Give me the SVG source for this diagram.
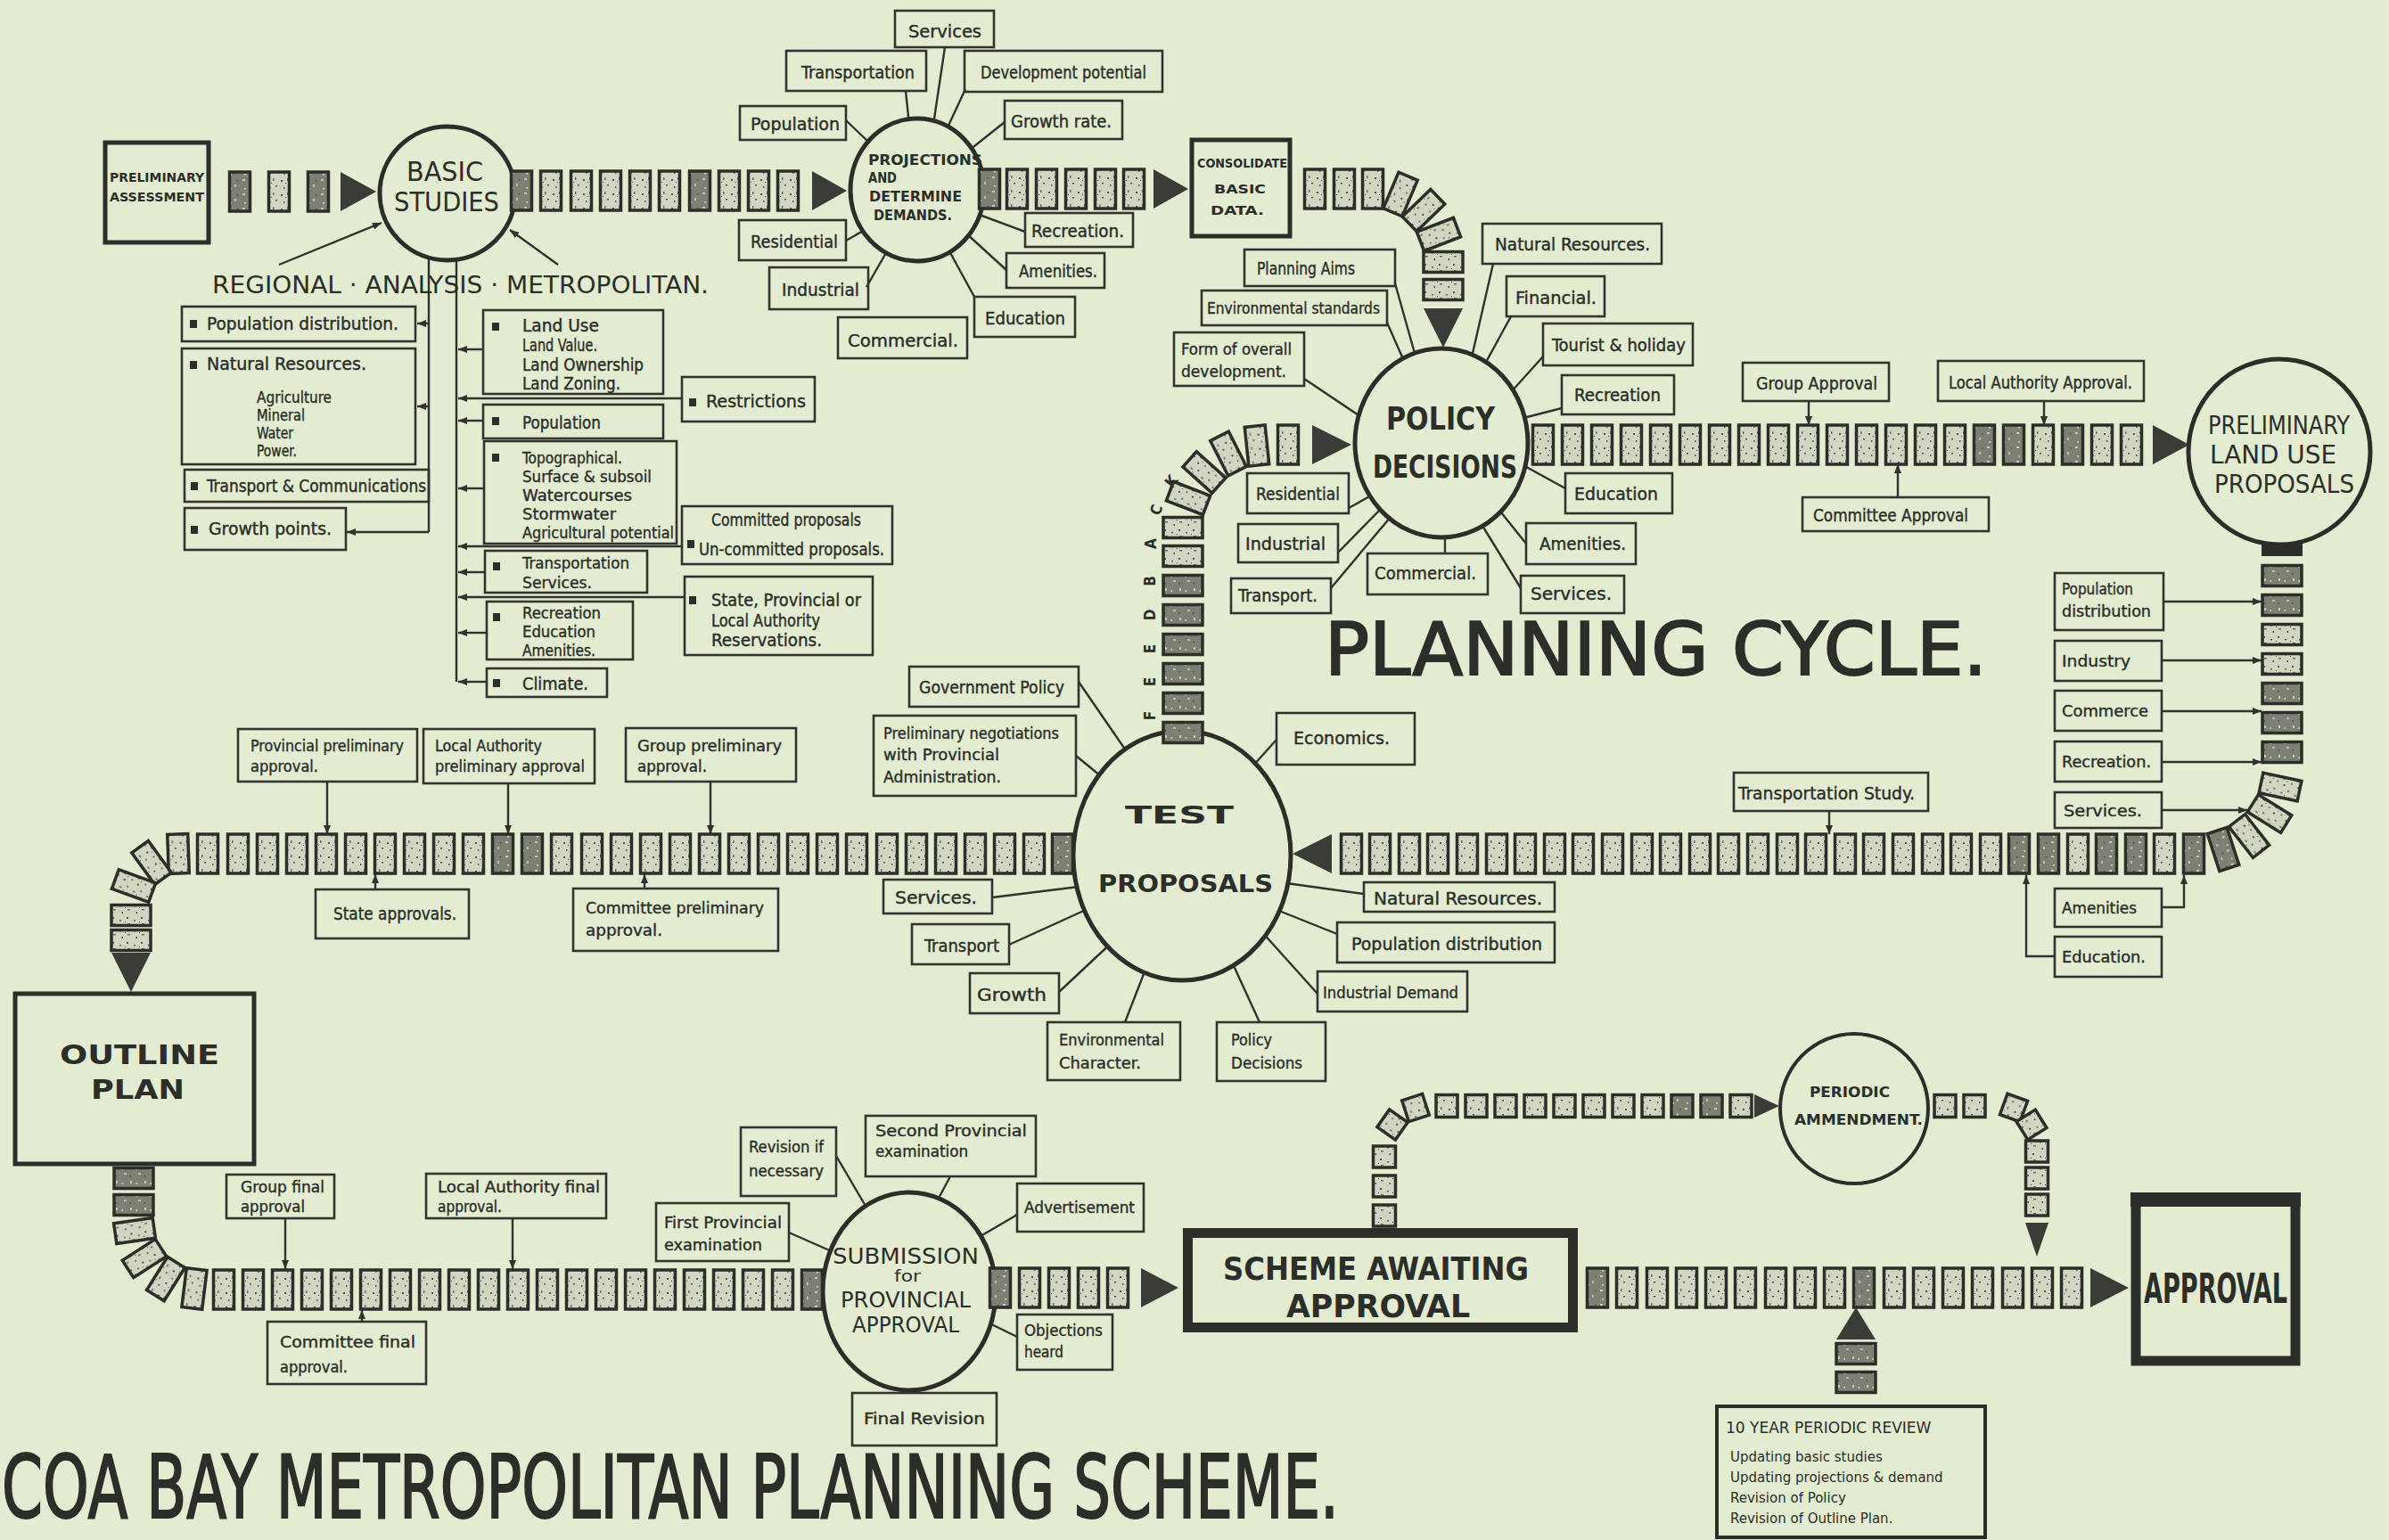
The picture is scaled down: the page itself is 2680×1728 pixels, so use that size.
<svg xmlns="http://www.w3.org/2000/svg" width="2680" height="1728" viewBox="0 0 2680 1728">
<defs>
<style>
.paper{fill:#e3ebd1}
.ln{fill:none;stroke:#30332e;stroke-width:2.4}
.bx{fill:none;stroke:#30332e;stroke-width:2.6}
.hv{fill:none;stroke:#2b2e29;stroke-width:5}
.xh{fill:none;stroke:#2b2e29;stroke-width:11}
.nd{fill:#e3ebd1;stroke:#2b2e29;stroke-width:5}
.blk{fill:url(#grain);stroke:#2b2e29;stroke-width:3.5}
.dk{fill:url(#grainDk)}
.ar{fill:#3a3d37}
.bul{fill:#2b2e29}
text{fill:#2b2e29;font-family:"DejaVu Sans Condensed","DejaVu Sans","Liberation Sans",sans-serif}
.lb{font-size:20px;stroke:#2b2e29;stroke-width:0.4}
.sm{font-size:17px;stroke:#2b2e29;stroke-width:0.35}
.cp{font-weight:bold}
.ttl{stroke:#2b2e29;stroke-width:2}
.wide{font-family:"DejaVu Sans","Liberation Sans",sans-serif}
</style>
<pattern id="grain" width="16" height="16" patternUnits="userSpaceOnUse">
<rect width="16" height="16" fill="#d0d6c1"/>
<rect x="2" y="3" width="2" height="2" fill="#50544b"/>
<rect x="9" y="1" width="1.5" height="3" fill="#6a6e63"/>
<rect x="12" y="9" width="2" height="1.5" fill="#4d5148"/>
<rect x="5" y="11" width="1.5" height="2" fill="#5c6057"/>
<rect x="7" y="6" width="1" height="1" fill="#3f423b"/>
</pattern>
<pattern id="grainDk" width="16" height="16" patternUnits="userSpaceOnUse">
<rect width="16" height="16" fill="#7c8174"/>
<rect x="3" y="2" width="3" height="2" fill="#c7ccb9"/>
<rect x="10" y="8" width="2" height="3" fill="#b9beab"/>
<rect x="5" y="12" width="2" height="1.5" fill="#d3d8c4"/>
<rect x="13" y="3" width="1.5" height="1.5" fill="#454940"/>
</pattern>
<rect id="b" x="-11.5" y="-22" width="23" height="44"/>
<rect id="s" x="-12" y="-12.5" width="24" height="25"/>
<marker id="arw" viewBox="0 0 10 8" refX="10" refY="4" markerWidth="10" markerHeight="8" markerUnits="userSpaceOnUse" orient="auto">
<path d="M0,0 L10,4 L0,8 z" fill="#2f322d"/>
</marker>
</defs>

<rect class="paper" x="0" y="0" width="2680" height="1728"/>

<!-- spokes, trunks and approval ticks -->
<g id="links" class="ln">
<!-- basic studies -->
<path d="M313,297 L428,250" marker-end="url(#arw)"/>
<path d="M626,297 L572,258" marker-end="url(#arw)"/>
<path d="M481,290 V597"/>
<path d="M512,290 V765"/>
<path d="M481,363 H468" marker-end="url(#arw)"/>
<path d="M481,456 H468" marker-end="url(#arw)"/>
<path d="M481,597 H389" marker-end="url(#arw)"/>
<path d="M542,392 H514" marker-end="url(#arw)"/>
<path d="M765,447 H514" marker-end="url(#arw)"/>
<path d="M542,472 H514" marker-end="url(#arw)"/>
<path d="M543,548 H514" marker-end="url(#arw)"/>
<path d="M765,613 H514" marker-end="url(#arw)"/>
<path d="M544,642 H514" marker-end="url(#arw)"/>
<path d="M768,670 H514" marker-end="url(#arw)"/>
<path d="M546,710 H514" marker-end="url(#arw)"/>
<path d="M546,765 H514" marker-end="url(#arw)"/>
<!-- projections -->
<path d="M1060,53 L1047,140"/>
<path d="M1016,102 L1020,140"/>
<path d="M1083,100 L1062,145"/>
<path d="M949,135 L975,160"/>
<path d="M1127,137 L1088,168"/>
<path d="M949,270 L970,258"/>
<path d="M1150,260 L1096,240"/>
<path d="M972,322 L995,282"/>
<path d="M1129,303 L1084,262"/>
<path d="M1093,333 L1064,280"/>
<!-- policy decisions -->
<path d="M1565,318 L1588,400"/>
<path d="M1556,362 L1575,405"/>
<path d="M1463,425 L1530,470"/>
<path d="M1675,296 L1650,405"/>
<path d="M1695,355 L1665,410"/>
<path d="M1731,400 L1695,440"/>
<path d="M1752,458 L1705,470"/>
<path d="M1756,548 L1705,520"/>
<path d="M1712,610 L1680,570"/>
<path d="M1706,660 L1660,585"/>
<path d="M1621,621 L1621,595"/>
<path d="M1513,570 L1540,555"/>
<path d="M1501,620 L1550,570"/>
<path d="M1493,660 L1560,580"/>
<!-- test proposals -->
<path d="M1210,765 L1265,845"/>
<path d="M1207,848 L1240,875"/>
<path d="M1432,830 L1405,860"/>
<path d="M1113,1007 L1210,995"/>
<path d="M1132,1060 L1220,1020"/>
<path d="M1188,1113 L1250,1055"/>
<path d="M1262,1147 L1290,1075"/>
<path d="M1413,1147 L1380,1075"/>
<path d="M1478,1115 L1415,1045"/>
<path d="M1500,1048 L1430,1020"/>
<path d="M1530,1003 L1436,990"/>
<!-- submission -->
<path d="M938,1297 L975,1360"/>
<path d="M1066,1320 L1050,1350"/>
<path d="M1141,1363 L1095,1390"/>
<path d="M885,1383 L935,1405"/>
<path d="M1141,1500 L1100,1480"/>
<path d="M1020,1563 L1020,1550"/>
<!-- approvals on the chains -->
<path d="M367,877 V936" marker-end="url(#arw)"/>
<path d="M570,879 V936" marker-end="url(#arw)"/>
<path d="M797,877 V936" marker-end="url(#arw)"/>
<path d="M421,998 V981" marker-end="url(#arw)"/>
<path d="M723,997 V981" marker-end="url(#arw)"/>
<path d="M2029,450 V477" marker-end="url(#arw)"/>
<path d="M2293,450 V477" marker-end="url(#arw)"/>
<path d="M2129,558 V521" marker-end="url(#arw)"/>
<path d="M2052,910 V936" marker-end="url(#arw)"/>
<path d="M320,1367 V1424" marker-end="url(#arw)"/>
<path d="M575,1367 V1424" marker-end="url(#arw)"/>
<path d="M406,1483 V1470" marker-end="url(#arw)"/>
<path d="M2427,675 H2537" marker-end="url(#arw)"/>
<path d="M2425,741 H2537" marker-end="url(#arw)"/>
<path d="M2425,798 H2537" marker-end="url(#arw)"/>
<path d="M2425,855 H2537" marker-end="url(#arw)"/>
<path d="M2425,909 H2521" marker-end="url(#arw)"/>
<path d="M2425,1018 H2450 V982" marker-end="url(#arw)"/>
<path d="M2305,1073 H2273 V982" marker-end="url(#arw)"/>
</g>

<!-- main stages -->
<g id="n-prelim-assessment">
<rect class="hv" x="118" y="160" width="116" height="112"/>
<text class="cp" x="123" y="204" font-size="14" textLength="106" lengthAdjust="spacingAndGlyphs">PRELIMINARY</text>
<text class="cp" x="123" y="226" font-size="14" textLength="106" lengthAdjust="spacingAndGlyphs">ASSESSMENT</text>
</g>
<g id="n-basic-studies">
<ellipse class="nd" cx="502" cy="217" rx="76" ry="75"/>
<text x="456" y="203" font-size="30" textLength="86" lengthAdjust="spacingAndGlyphs">BASIC</text>
<text x="442" y="237" font-size="30" textLength="118" lengthAdjust="spacingAndGlyphs">STUDIES</text>
</g>
<g id="n-projections">
<ellipse class="nd" cx="1029" cy="213" rx="75" ry="80"/>
<text class="cp" x="974" y="185" font-size="16" textLength="128" lengthAdjust="spacingAndGlyphs">PROJECTIONS</text>
<text class="cp" x="974" y="205" font-size="16" textLength="32" lengthAdjust="spacingAndGlyphs">AND</text>
<text class="cp" x="975" y="226" font-size="16" textLength="104" lengthAdjust="spacingAndGlyphs">DETERMINE</text>
<text class="cp" x="980" y="247" font-size="16" textLength="88" lengthAdjust="spacingAndGlyphs">DEMANDS.</text>
</g>
<g id="n-consolidate">
<rect class="hv" x="1337" y="157" width="110" height="108"/>
<text class="cp" x="1343" y="188" font-size="14" textLength="101" lengthAdjust="spacingAndGlyphs">CONSOLIDATE</text>
<text class="cp" x="1362" y="217" font-size="14" textLength="58" lengthAdjust="spacingAndGlyphs">BASIC</text>
<text class="cp" x="1358" y="241" font-size="14" textLength="60" lengthAdjust="spacingAndGlyphs">DATA.</text>
</g>
<g id="n-policy">
<ellipse class="nd" cx="1617" cy="497" rx="97" ry="106"/>
<text class="cp" x="1555" y="482" font-size="36" textLength="122" lengthAdjust="spacingAndGlyphs">POLICY</text>
<text class="cp" x="1540" y="536" font-size="36" textLength="162" lengthAdjust="spacingAndGlyphs">DECISIONS</text>
</g>
<g id="n-prelim-landuse">
<ellipse class="nd" cx="2557" cy="507" rx="102" ry="104"/>
<text x="2477" y="487" font-size="28" textLength="159" lengthAdjust="spacingAndGlyphs">PRELIMINARY</text>
<text x="2479" y="520" font-size="28" textLength="142" lengthAdjust="spacingAndGlyphs">LAND USE</text>
<text x="2484" y="553" font-size="28" textLength="157" lengthAdjust="spacingAndGlyphs">PROPOSALS</text>
</g>
<g id="n-test">
<ellipse class="nd" cx="1326" cy="960" rx="122" ry="140"/>
<text class="cp" x="1262" y="924" font-size="27" textLength="122" lengthAdjust="spacingAndGlyphs">TEST</text>
<text class="cp" x="1232" y="1001" font-size="27" textLength="196" lengthAdjust="spacingAndGlyphs">PROPOSALS</text>
</g>
<g id="n-outline">
<rect class="hv" x="17" y="1115" width="268" height="191"/>
<text class="cp" x="67" y="1194" font-size="30" textLength="179" lengthAdjust="spacingAndGlyphs">OUTLINE</text>
<text class="cp" x="102" y="1233" font-size="30" textLength="105" lengthAdjust="spacingAndGlyphs">PLAN</text>
</g>
<g id="n-submission">
<ellipse class="nd" cx="1020" cy="1449" rx="97" ry="111"/>
<text x="934" y="1418" font-size="25" textLength="164" lengthAdjust="spacingAndGlyphs">SUBMISSION</text>
<text x="1003" y="1438" font-size="18" textLength="30" lengthAdjust="spacingAndGlyphs">for</text>
<text x="943" y="1467" font-size="25" textLength="146" lengthAdjust="spacingAndGlyphs">PROVINCIAL</text>
<text x="956" y="1495" font-size="25" textLength="120" lengthAdjust="spacingAndGlyphs">APPROVAL</text>
</g>
<g id="n-scheme">
<rect class="xh" x="1332.5" y="1383.5" width="432" height="106"/>
<text class="cp" x="1372" y="1436" font-size="35" textLength="343" lengthAdjust="spacingAndGlyphs">SCHEME AWAITING</text>
<text class="cp" x="1443" y="1478" font-size="35" textLength="206" lengthAdjust="spacingAndGlyphs">APPROVAL</text>
</g>
<g id="n-approval">
<rect class="xh" x="2396" y="1347" width="179" height="180"/>
<rect x="2390" y="1338" width="191" height="16" fill="#2b2e29"/>
<text class="cp" x="2405" y="1462" font-size="46" textLength="161" lengthAdjust="spacingAndGlyphs">APPROVAL</text>
</g>
<g id="n-periodic">
<ellipse cx="2080" cy="1244" rx="83" ry="84" fill="#e3ebd1" stroke="#2b2e29" stroke-width="4"/>
<text class="cp" x="2030" y="1231" font-size="15" textLength="90" lengthAdjust="spacingAndGlyphs">PERIODIC</text>
<text class="cp" x="2013" y="1262" font-size="15" textLength="144" lengthAdjust="spacingAndGlyphs">AMMENDMENT.</text>
</g>
<g id="n-review">
<rect x="1926" y="1578" width="301" height="147" fill="none" stroke="#2b2e29" stroke-width="4"/>
<text class="wide" font-size="15">
<tspan x="1936" y="1608" font-size="17">10 YEAR PERIODIC REVIEW</tspan>
<tspan x="1941" y="1640">Updating basic studies</tspan>
<tspan x="1941" y="1663">Updating projections &amp; demand</tspan>
<tspan x="1941" y="1686">Revision of Policy</tspan>
<tspan x="1941" y="1709">Revision of Outline Plan.</tspan>
</text>
</g>

<!-- basic studies analysis lists -->
<g id="t-analysis"><text x="238" y="329" font-size="26" textLength="557" lengthAdjust="spacingAndGlyphs">REGIONAL · ANALYSIS · METROPOLITAN.</text></g>
<g id="l-pop-dist"><rect class="bx" x="204" y="344" width="262" height="39"/><rect class="bul" x="213" y="359" width="8" height="9"/>
<text class="lb" x="232" y="370" textLength="215" lengthAdjust="spacingAndGlyphs">Population distribution.</text></g>
<g id="l-nat-res"><rect class="bx" x="204" y="391" width="262" height="130"/><rect class="bul" x="213" y="405" width="8" height="9"/>
<text class="lb" x="232" y="415" textLength="179" lengthAdjust="spacingAndGlyphs">Natural Resources.</text>
<text class="sm" x="288" y="452" textLength="84" lengthAdjust="spacingAndGlyphs">Agriculture</text>
<text class="sm" x="288" y="472" textLength="54" lengthAdjust="spacingAndGlyphs">Mineral</text>
<text class="sm" x="288" y="492" textLength="41" lengthAdjust="spacingAndGlyphs">Water</text>
<text class="sm" x="288" y="512" textLength="45" lengthAdjust="spacingAndGlyphs">Power.</text></g>
<g id="l-transport-comm"><rect class="bx" x="207" y="527" width="274" height="36"/><rect class="bul" x="214" y="541" width="8" height="9"/>
<text class="lb" x="232" y="552" textLength="246" lengthAdjust="spacingAndGlyphs">Transport &amp; Communications</text></g>
<g id="l-growth-points"><rect class="bx" x="207" y="570" width="181" height="47"/><rect class="bul" x="214" y="590" width="8" height="9"/>
<text class="lb" x="234" y="600" textLength="138" lengthAdjust="spacingAndGlyphs">Growth points.</text></g>
<g id="l-land"><rect class="bx" x="542" y="348" width="202" height="94"/><rect class="bul" x="552" y="362" width="8" height="9"/>
<text class="lb" x="586" y="372" textLength="86" lengthAdjust="spacingAndGlyphs">Land Use</text>
<text class="lb" x="586" y="394" textLength="84" lengthAdjust="spacingAndGlyphs">Land Value.</text>
<text class="lb" x="586" y="416" textLength="136" lengthAdjust="spacingAndGlyphs">Land Ownership</text>
<text class="lb" x="586" y="437" textLength="110" lengthAdjust="spacingAndGlyphs">Land Zoning.</text></g>
<g id="l-population"><rect class="bx" x="542" y="454" width="202" height="38"/><rect class="bul" x="552" y="468" width="8" height="9"/>
<text class="lb" x="586" y="481" textLength="88" lengthAdjust="spacingAndGlyphs">Population</text></g>
<g id="l-topo"><rect class="bx" x="543" y="495" width="216" height="115"/><rect class="bul" x="552" y="509" width="8" height="9"/>
<text class="sm" x="586" y="520" textLength="112" lengthAdjust="spacingAndGlyphs">Topographical.</text>
<text class="sm" x="586" y="541" textLength="145" lengthAdjust="spacingAndGlyphs">Surface &amp; subsoil</text>
<text class="sm" x="586" y="562" textLength="123" lengthAdjust="spacingAndGlyphs">Watercourses</text>
<text class="sm" x="586" y="583" textLength="105" lengthAdjust="spacingAndGlyphs">Stormwater</text>
<text class="sm" x="586" y="604" textLength="170" lengthAdjust="spacingAndGlyphs">Agricultural potential</text></g>
<g id="l-transportation"><rect class="bx" x="544" y="618" width="182" height="47"/><rect class="bul" x="553" y="631" width="8" height="9"/>
<text class="sm" x="586" y="638" textLength="120" lengthAdjust="spacingAndGlyphs">Transportation</text>
<text class="sm" x="586" y="660" textLength="78" lengthAdjust="spacingAndGlyphs">Services.</text></g>
<g id="l-recreation"><rect class="bx" x="546" y="675" width="164" height="65"/><rect class="bul" x="553" y="688" width="8" height="9"/>
<text class="sm" x="586" y="694" textLength="88" lengthAdjust="spacingAndGlyphs">Recreation</text>
<text class="sm" x="586" y="715" textLength="82" lengthAdjust="spacingAndGlyphs">Education</text>
<text class="sm" x="586" y="736" textLength="82" lengthAdjust="spacingAndGlyphs">Amenities.</text></g>
<g id="l-climate"><rect class="bx" x="546" y="750" width="135" height="32"/><rect class="bul" x="553" y="762" width="8" height="9"/>
<text class="lb" x="586" y="774" textLength="74" lengthAdjust="spacingAndGlyphs">Climate.</text></g>
<g id="l-restrictions"><rect class="bx" x="765" y="423" width="149" height="50"/><rect class="bul" x="773" y="447" width="8" height="9"/>
<text class="lb" x="792" y="457" textLength="112" lengthAdjust="spacingAndGlyphs">Restrictions</text></g>
<g id="l-committed"><rect class="bx" x="765" y="568" width="236" height="65"/><rect class="bul" x="771" y="606" width="8" height="9"/>
<text class="lb" x="798" y="590" textLength="168" lengthAdjust="spacingAndGlyphs">Committed proposals</text>
<text class="lb" x="784" y="623" textLength="208" lengthAdjust="spacingAndGlyphs">Un-committed proposals.</text></g>
<g id="l-reservations"><rect class="bx" x="768" y="647" width="211" height="88"/><rect class="bul" x="773" y="669" width="8" height="9"/>
<text class="lb" x="798" y="680" textLength="168" lengthAdjust="spacingAndGlyphs">State, Provincial or</text>
<text class="lb" x="798" y="703" textLength="122" lengthAdjust="spacingAndGlyphs">Local Authority</text>
<text class="lb" x="798" y="725" textLength="124" lengthAdjust="spacingAndGlyphs">Reservations.</text></g>

<!-- projections satellites -->
<g id="p-services"><rect class="bx" x="1004" y="12" width="111" height="41"/><text class="lb" x="1019" y="42" font-size="22" textLength="82" lengthAdjust="spacingAndGlyphs">Services</text></g>
<g id="p-transportation"><rect class="bx" x="882" y="57" width="157" height="45"/><text class="lb" x="899" y="88" textLength="127" lengthAdjust="spacingAndGlyphs">Transportation</text></g>
<g id="p-development"><rect class="bx" x="1082" y="57" width="222" height="46"/><text class="lb" x="1100" y="88" textLength="186" lengthAdjust="spacingAndGlyphs">Development potential</text></g>
<g id="p-population"><rect class="bx" x="830" y="119" width="119" height="38"/><text class="lb" x="842" y="146" textLength="100" lengthAdjust="spacingAndGlyphs">Population</text></g>
<g id="p-growth"><rect class="bx" x="1127" y="113" width="132" height="43"/><text class="lb" x="1134" y="143" textLength="113" lengthAdjust="spacingAndGlyphs">Growth rate.</text></g>
<g id="p-residential"><rect class="bx" x="829" y="247" width="120" height="45"/><text class="lb" x="842" y="278" textLength="98" lengthAdjust="spacingAndGlyphs">Residential</text></g>
<g id="p-recreation"><rect class="bx" x="1150" y="239" width="121" height="38"/><text class="lb" x="1157" y="266" textLength="104" lengthAdjust="spacingAndGlyphs">Recreation.</text></g>
<g id="p-industrial"><rect class="bx" x="863" y="300" width="111" height="47"/><text class="lb" x="877" y="332" textLength="87" lengthAdjust="spacingAndGlyphs">Industrial</text></g>
<g id="p-amenities"><rect class="bx" x="1129" y="284" width="110" height="39"/><text class="lb" x="1143" y="311" textLength="88" lengthAdjust="spacingAndGlyphs">Amenities.</text></g>
<g id="p-education"><rect class="bx" x="1093" y="333" width="113" height="45"/><text class="lb" x="1105" y="364" textLength="90" lengthAdjust="spacingAndGlyphs">Education</text></g>
<g id="p-commercial"><rect class="bx" x="940" y="356" width="145" height="46"/><text class="lb" x="951" y="389" font-size="24" textLength="124" lengthAdjust="spacingAndGlyphs">Commercial.</text></g>

<!-- policy satellites -->
<g id="q-planning-aims"><rect class="bx" x="1396" y="280" width="169" height="41"/><text class="lb" x="1410" y="308" textLength="110" lengthAdjust="spacingAndGlyphs">Planning Aims</text></g>
<g id="q-env-standards"><rect class="bx" x="1348" y="326" width="208" height="39"/><text class="sm" x="1354" y="352" textLength="194" lengthAdjust="spacingAndGlyphs">Environmental standards</text></g>
<g id="q-form"><rect class="bx" x="1317" y="373" width="146" height="60"/><text class="sm" x="1325" y="398" textLength="124" lengthAdjust="spacingAndGlyphs">Form of overall</text><text class="sm" x="1325" y="423" textLength="118" lengthAdjust="spacingAndGlyphs">development.</text></g>
<g id="q-natural"><rect class="bx" x="1663" y="251" width="201" height="45"/><text class="lb" x="1677" y="281" textLength="174" lengthAdjust="spacingAndGlyphs">Natural Resources.</text></g>
<g id="q-financial"><rect class="bx" x="1690" y="310" width="110" height="45"/><text class="lb" x="1700" y="341" textLength="91" lengthAdjust="spacingAndGlyphs">Financial.</text></g>
<g id="q-tourist"><rect class="bx" x="1731" y="363" width="168" height="47"/><text class="lb" x="1741" y="394" textLength="150" lengthAdjust="spacingAndGlyphs">Tourist &amp; holiday</text></g>
<g id="q-recreation"><rect class="bx" x="1752" y="421" width="126" height="44"/><text class="lb" x="1766" y="450" textLength="97" lengthAdjust="spacingAndGlyphs">Recreation</text></g>
<g id="q-education"><rect class="bx" x="1756" y="531" width="120" height="45"/><text class="lb" x="1766" y="561" textLength="94" lengthAdjust="spacingAndGlyphs">Education</text></g>
<g id="q-amenities"><rect class="bx" x="1712" y="587" width="123" height="46"/><text class="lb" x="1727" y="617" textLength="97" lengthAdjust="spacingAndGlyphs">Amenities.</text></g>
<g id="q-services"><rect class="bx" x="1706" y="646" width="116" height="42"/><text class="lb" x="1717" y="673" textLength="91" lengthAdjust="spacingAndGlyphs">Services.</text></g>
<g id="q-commercial"><rect class="bx" x="1534" y="621" width="135" height="46"/><text class="lb" x="1542" y="650" textLength="114" lengthAdjust="spacingAndGlyphs">Commercial.</text></g>
<g id="q-residential"><rect class="bx" x="1399" y="531" width="114" height="45"/><text class="lb" x="1409" y="561" textLength="94" lengthAdjust="spacingAndGlyphs">Residential</text></g>
<g id="q-industrial"><rect class="bx" x="1389" y="588" width="112" height="43"/><text class="lb" x="1397" y="617" textLength="90" lengthAdjust="spacingAndGlyphs">Industrial</text></g>
<g id="q-transport"><rect class="bx" x="1381" y="649" width="112" height="39"/><text class="lb" x="1389" y="675" textLength="89" lengthAdjust="spacingAndGlyphs">Transport.</text></g>

<!-- approvals towards the land use proposals -->
<g id="r-group"><rect class="bx" x="1955" y="407" width="164" height="43"/><text class="lb" x="1970" y="437" textLength="136" lengthAdjust="spacingAndGlyphs">Group Approval</text></g>
<g id="r-local"><rect class="bx" x="2174" y="405" width="231" height="45"/><text class="lb" x="2186" y="436" textLength="206" lengthAdjust="spacingAndGlyphs">Local Authority Approval.</text></g>
<g id="r-committee"><rect class="bx" x="2022" y="558" width="209" height="38"/><text class="lb" x="2034" y="585" textLength="174" lengthAdjust="spacingAndGlyphs">Committee Approval</text></g>
<g id="r-pop"><rect class="bx" x="2305" y="643" width="122" height="64"/><text class="sm" x="2313" y="667" textLength="80" lengthAdjust="spacingAndGlyphs">Population</text><text class="sm" x="2313" y="692" textLength="100" lengthAdjust="spacingAndGlyphs">distribution</text></g>
<g id="r-industry"><rect class="bx" x="2305" y="719" width="120" height="45"/><text class="sm" x="2313" y="748" textLength="77" lengthAdjust="spacingAndGlyphs">Industry</text></g>
<g id="r-commerce"><rect class="bx" x="2305" y="775" width="120" height="45"/><text class="sm" x="2313" y="804" textLength="97" lengthAdjust="spacingAndGlyphs">Commerce</text></g>
<g id="r-recreation"><rect class="bx" x="2305" y="832" width="120" height="45"/><text class="sm" x="2313" y="861" textLength="100" lengthAdjust="spacingAndGlyphs">Recreation.</text></g>
<g id="r-services"><rect class="bx" x="2305" y="889" width="120" height="40"/><text class="sm" x="2315" y="916" textLength="88" lengthAdjust="spacingAndGlyphs">Services.</text></g>
<g id="r-amenities"><rect class="bx" x="2305" y="997" width="120" height="43"/><text class="sm" x="2313" y="1025" textLength="84" lengthAdjust="spacingAndGlyphs">Amenities</text></g>
<g id="r-education"><rect class="bx" x="2305" y="1051" width="120" height="45"/><text class="sm" x="2313" y="1080" textLength="94" lengthAdjust="spacingAndGlyphs">Education.</text></g>
<g id="r-transport-study"><rect class="bx" x="1945" y="867" width="218" height="43"/><text class="lb" x="1950" y="897" textLength="198" lengthAdjust="spacingAndGlyphs">Transportation Study.</text></g>

<!-- test proposals satellites -->
<g id="t-government"><rect class="bx" x="1020" y="748" width="190" height="45"/><text class="lb" x="1031" y="778" textLength="163" lengthAdjust="spacingAndGlyphs">Government Policy</text></g>
<g id="t-negotiations"><rect class="bx" x="980" y="803" width="227" height="90"/><text class="sm" x="991" y="829" textLength="197" lengthAdjust="spacingAndGlyphs">Preliminary negotiations</text><text class="sm" x="991" y="853" textLength="130" lengthAdjust="spacingAndGlyphs">with Provincial</text><text class="sm" x="991" y="878" textLength="132" lengthAdjust="spacingAndGlyphs">Administration.</text></g>
<g id="t-economics"><rect class="bx" x="1432" y="800" width="155" height="58"/><text class="lb" x="1451" y="835" textLength="108" lengthAdjust="spacingAndGlyphs">Economics.</text></g>
<g id="t-services"><rect class="bx" x="991" y="987" width="122" height="38"/><text class="lb" x="1004" y="1014" textLength="92" lengthAdjust="spacingAndGlyphs">Services.</text></g>
<g id="t-transport"><rect class="bx" x="1023" y="1037" width="109" height="45"/><text class="lb" x="1037" y="1068" textLength="84" lengthAdjust="spacingAndGlyphs">Transport</text></g>
<g id="t-growth"><rect class="bx" x="1088" y="1092" width="100" height="45"/><text class="lb" x="1096" y="1123" textLength="78" lengthAdjust="spacingAndGlyphs">Growth</text></g>
<g id="t-environment"><rect class="bx" x="1175" y="1147" width="149" height="65"/><text class="sm" x="1188" y="1173" textLength="118" lengthAdjust="spacingAndGlyphs">Environmental</text><text class="sm" x="1188" y="1199" textLength="92" lengthAdjust="spacingAndGlyphs">Character.</text></g>
<g id="t-policy"><rect class="bx" x="1365" y="1147" width="122" height="66"/><text class="sm" x="1381" y="1173" textLength="46" lengthAdjust="spacingAndGlyphs">Policy</text><text class="sm" x="1381" y="1199" textLength="80" lengthAdjust="spacingAndGlyphs">Decisions</text></g>
<g id="t-industrial"><rect class="bx" x="1478" y="1090" width="168" height="45"/><text class="sm" x="1484" y="1120" textLength="152" lengthAdjust="spacingAndGlyphs">Industrial Demand</text></g>
<g id="t-population"><rect class="bx" x="1500" y="1035" width="244" height="45"/><text class="lb" x="1516" y="1066" textLength="214" lengthAdjust="spacingAndGlyphs">Population distribution</text></g>
<g id="t-natural"><rect class="bx" x="1530" y="990" width="214" height="33"/><text class="lb" x="1541" y="1015" textLength="189" lengthAdjust="spacingAndGlyphs">Natural Resources.</text></g>

<!-- preliminary approvals towards the outline plan -->
<g id="a-provincial"><rect class="bx" x="267" y="818" width="201" height="59"/><text class="sm" x="281" y="843" textLength="172" lengthAdjust="spacingAndGlyphs">Provincial preliminary</text><text class="sm" x="281" y="866" textLength="76" lengthAdjust="spacingAndGlyphs">approval.</text></g>
<g id="a-local"><rect class="bx" x="475" y="818" width="192" height="61"/><text class="sm" x="488" y="843" textLength="120" lengthAdjust="spacingAndGlyphs">Local Authority</text><text class="sm" x="488" y="866" textLength="168" lengthAdjust="spacingAndGlyphs">preliminary approval</text></g>
<g id="a-group"><rect class="bx" x="702" y="817" width="191" height="60"/><text class="sm" x="715" y="843" textLength="162" lengthAdjust="spacingAndGlyphs">Group preliminary</text><text class="sm" x="715" y="866" textLength="78" lengthAdjust="spacingAndGlyphs">approval.</text></g>
<g id="a-state"><rect class="bx" x="354" y="998" width="172" height="55"/><text class="lb" x="374" y="1032" textLength="138" lengthAdjust="spacingAndGlyphs">State approvals.</text></g>
<g id="a-committee"><rect class="bx" x="643" y="997" width="230" height="70"/><text class="sm" x="657" y="1025" textLength="200" lengthAdjust="spacingAndGlyphs">Committee preliminary</text><text class="sm" x="657" y="1050" textLength="86" lengthAdjust="spacingAndGlyphs">approval.</text></g>

<!-- final approvals and provincial submission -->
<g id="f-group"><rect class="bx" x="254" y="1318" width="121" height="49"/><text class="sm" x="270" y="1338" textLength="94" lengthAdjust="spacingAndGlyphs">Group final</text><text class="sm" x="270" y="1360" textLength="72" lengthAdjust="spacingAndGlyphs">approval</text></g>
<g id="f-local"><rect class="bx" x="478" y="1317" width="202" height="50"/><text class="sm" x="491" y="1338" textLength="182" lengthAdjust="spacingAndGlyphs">Local Authority final</text><text class="sm" x="491" y="1360" textLength="72" lengthAdjust="spacingAndGlyphs">approval.</text></g>
<g id="f-committee"><rect class="bx" x="300" y="1483" width="178" height="70"/><text class="sm" x="314" y="1512" textLength="152" lengthAdjust="spacingAndGlyphs">Committee final</text><text class="sm" x="314" y="1540" textLength="76" lengthAdjust="spacingAndGlyphs">approval.</text></g>
<g id="s-revision"><rect class="bx" x="831" y="1265" width="107" height="77"/><text class="sm" x="840" y="1293" textLength="84" lengthAdjust="spacingAndGlyphs">Revision if</text><text class="sm" x="840" y="1320" textLength="84" lengthAdjust="spacingAndGlyphs">necessary</text></g>
<g id="s-second"><rect class="bx" x="971" y="1252" width="191" height="68"/><text class="sm" x="982" y="1275" textLength="170" lengthAdjust="spacingAndGlyphs">Second Provincial</text><text class="sm" x="982" y="1298" textLength="104" lengthAdjust="spacingAndGlyphs">examination</text></g>
<g id="s-advertisement"><rect class="bx" x="1141" y="1328" width="142" height="54"/><text class="sm" x="1149" y="1361" textLength="124" lengthAdjust="spacingAndGlyphs">Advertisement</text></g>
<g id="s-first"><rect class="bx" x="736" y="1350" width="149" height="65"/><text class="sm" x="745" y="1378" textLength="132" lengthAdjust="spacingAndGlyphs">First Provincial</text><text class="sm" x="745" y="1403" textLength="110" lengthAdjust="spacingAndGlyphs">examination</text></g>
<g id="s-objections"><rect class="bx" x="1141" y="1475" width="107" height="62"/><text class="sm" x="1149" y="1499" textLength="88" lengthAdjust="spacingAndGlyphs">Objections</text><text class="sm" x="1149" y="1523" textLength="44" lengthAdjust="spacingAndGlyphs">heard</text></g>
<g id="s-final"><rect class="bx" x="956" y="1563" width="162" height="59"/><text class="sm" x="969" y="1598" textLength="136" lengthAdjust="spacingAndGlyphs">Final Revision</text></g>

<!-- titles -->
<g id="title-cycle"><text class="ttl wide" x="1486" y="757" font-size="82" textLength="743" lengthAdjust="spacingAndGlyphs">PLANNING CYCLE.</text></g>
<g id="title-scheme"><text class="ttl" transform="translate(2,1703) scale(0.75,1)" x="0" y="0" font-size="98" textLength="2000" lengthAdjust="spacingAndGlyphs">COA BAY METROPOLITAN PLANNING SCHEME.</text></g>
<g id="label-feedback" class="cp" font-size="17" text-anchor="middle">
<text transform="translate(1290,803) rotate(-90)" dy="6">F</text>
<text transform="translate(1290,765) rotate(-90)" dy="6">E</text>
<text transform="translate(1290,728) rotate(-90)" dy="6">E</text>
<text transform="translate(1290,690) rotate(-90)" dy="6">D</text>
<text transform="translate(1290,652) rotate(-90)" dy="6">B</text>
<text transform="translate(1291,610) rotate(-90)" dy="6">A</text>
<text transform="translate(1297,572) rotate(-72)" dy="6">C</text>
<text transform="translate(1314,540) rotate(-52)" dy="6">K</text>
</g>

<!-- flow chains -->
<g id="flow">
<!-- preliminary assessment to basic studies -->
<use href="#b" class="blk dk" x="269" y="215"/>
<use href="#b" class="blk" x="313" y="215"/>
<use href="#b" class="blk dk" x="357" y="215"/>
<polygon class="ar" points="382,193 382,237 422,215"/>
<!-- basic studies to projections -->
<use href="#b" class="blk dk" x="585" y="214"/>
<use href="#b" class="blk" x="618" y="214"/>
<use href="#b" class="blk" x="652" y="214"/>
<use href="#b" class="blk" x="685" y="214"/>
<use href="#b" class="blk" x="718" y="214"/>
<use href="#b" class="blk" x="751" y="214"/>
<use href="#b" class="blk dk" x="785" y="214"/>
<use href="#b" class="blk" x="818" y="214"/>
<use href="#b" class="blk" x="851" y="214"/>
<use href="#b" class="blk" x="884" y="214"/>
<polygon class="ar" points="911,192 911,236 950,214"/>
<!-- projections to consolidate -->
<use href="#b" class="blk dk" x="1110" y="212"/>
<use href="#b" class="blk" x="1141" y="212"/>
<use href="#b" class="blk" x="1174" y="212"/>
<use href="#b" class="blk" x="1207" y="212"/>
<use href="#b" class="blk" x="1240" y="212"/>
<use href="#b" class="blk" x="1272" y="212"/>
<polygon class="ar" points="1294,190 1294,234 1333,212"/>
<!-- consolidate down into policy -->
<use href="#b" class="blk" x="1475" y="212"/>
<use href="#b" class="blk" x="1508" y="212"/>
<use href="#b" class="blk" transform="translate(1540,212)"/>
<use href="#b" class="blk" transform="translate(1571,218) rotate(23)"/>
<use href="#b" class="blk" transform="translate(1597,236) rotate(46)"/>
<use href="#b" class="blk" transform="translate(1614,263) rotate(69)"/>
<use href="#b" class="blk" transform="translate(1619,294) rotate(90)"/>
<use href="#b" class="blk" transform="translate(1619,325) rotate(90)"/>
<polygon class="ar" points="1597,346 1641,346 1619,390"/>
<!-- feedback from test proposals to policy -->
<use href="#b" class="blk dk" transform="translate(1327,822) rotate(90)"/>
<use href="#b" class="blk dk" transform="translate(1327,789) rotate(90)"/>
<use href="#b" class="blk dk" transform="translate(1327,756) rotate(90)"/>
<use href="#b" class="blk dk" transform="translate(1327,723) rotate(90)"/>
<use href="#b" class="blk dk" transform="translate(1327,690) rotate(90)"/>
<use href="#b" class="blk dk" transform="translate(1327,657) rotate(90)"/>
<use href="#b" class="blk" transform="translate(1327,624) rotate(90)"/>
<use href="#b" class="blk" transform="translate(1327,592) rotate(90)"/>
<use href="#b" class="blk" transform="translate(1333,559) rotate(-69)"/>
<use href="#b" class="blk" transform="translate(1351,530) rotate(-48)"/>
<use href="#b" class="blk" transform="translate(1378,509) rotate(-27)"/>
<use href="#b" class="blk" transform="translate(1410,500) rotate(-6)"/>
<use href="#b" class="blk" x="1445" y="499"/>
<polygon class="ar" points="1472,477 1472,521 1516,499"/>
<!-- policy to preliminary land use proposals -->
<use href="#b" class="blk" x="1731" y="499"/>
<use href="#b" class="blk" x="1764" y="499"/>
<use href="#b" class="blk" x="1797" y="499"/>
<use href="#b" class="blk" x="1830" y="499"/>
<use href="#b" class="blk" x="1863" y="499"/>
<use href="#b" class="blk" x="1896" y="499"/>
<use href="#b" class="blk" x="1929" y="499"/>
<use href="#b" class="blk" x="1962" y="499"/>
<use href="#b" class="blk" x="1995" y="499"/>
<use href="#b" class="blk" x="2028" y="499"/>
<use href="#b" class="blk" x="2061" y="499"/>
<use href="#b" class="blk" x="2094" y="499"/>
<use href="#b" class="blk" x="2127" y="499"/>
<use href="#b" class="blk" x="2160" y="499"/>
<use href="#b" class="blk" x="2193" y="499"/>
<use href="#b" class="blk dk" x="2226" y="499"/>
<use href="#b" class="blk dk" x="2259" y="499"/>
<use href="#b" class="blk" x="2292" y="499"/>
<use href="#b" class="blk dk" x="2325" y="499"/>
<use href="#b" class="blk" x="2358" y="499"/>
<use href="#b" class="blk" x="2391" y="499"/>
<polygon class="ar" points="2415,477 2415,521 2456,499"/>
<!-- land use proposals round to test proposals -->
<rect x="2537" y="609" width="46" height="15" fill="#2b2e29"/>
<use href="#b" class="blk dk" transform="translate(2560,646) rotate(90)"/>
<use href="#b" class="blk dk" transform="translate(2560,679) rotate(90)"/>
<use href="#b" class="blk" transform="translate(2560,712) rotate(90)"/>
<use href="#b" class="blk" transform="translate(2560,745) rotate(90)"/>
<use href="#b" class="blk dk" transform="translate(2560,778) rotate(90)"/>
<use href="#b" class="blk dk" transform="translate(2560,811) rotate(90)"/>
<use href="#b" class="blk dk" transform="translate(2560,844) rotate(90)"/>
<use href="#b" class="blk" transform="translate(2558,883) rotate(-78)"/>
<use href="#b" class="blk" transform="translate(2546,913) rotate(-58)"/>
<use href="#b" class="blk" transform="translate(2523,938) rotate(-38)"/>
<use href="#b" class="blk dk" transform="translate(2494,953) rotate(-18)"/>
<use href="#b" class="blk dk" x="2461" y="958"/>
<use href="#b" class="blk" x="2428" y="958"/>
<use href="#b" class="blk dk" x="2396" y="958"/>
<use href="#b" class="blk dk" x="2363" y="958"/>
<use href="#b" class="blk" x="2331" y="958"/>
<use href="#b" class="blk dk" x="2298" y="958"/>
<use href="#b" class="blk dk" x="2265" y="958"/>
<use href="#b" class="blk" x="2233" y="958"/>
<use href="#b" class="blk" x="2200" y="958"/>
<use href="#b" class="blk" x="2168" y="958"/>
<use href="#b" class="blk" x="2135" y="958"/>
<use href="#b" class="blk" x="2102" y="958"/>
<use href="#b" class="blk" x="2070" y="958"/>
<use href="#b" class="blk" x="2037" y="958"/>
<use href="#b" class="blk" x="2005" y="958"/>
<use href="#b" class="blk" x="1972" y="958"/>
<use href="#b" class="blk" x="1939" y="958"/>
<use href="#b" class="blk" x="1907" y="958"/>
<use href="#b" class="blk" x="1874" y="958"/>
<use href="#b" class="blk" x="1842" y="958"/>
<use href="#b" class="blk" x="1809" y="958"/>
<use href="#b" class="blk" x="1776" y="958"/>
<use href="#b" class="blk" x="1744" y="958"/>
<use href="#b" class="blk" x="1711" y="958"/>
<use href="#b" class="blk" x="1679" y="958"/>
<use href="#b" class="blk" x="1646" y="958"/>
<use href="#b" class="blk" x="1613" y="958"/>
<use href="#b" class="blk" x="1581" y="958"/>
<use href="#b" class="blk" x="1548" y="958"/>
<use href="#b" class="blk" x="1516" y="958"/>
<polygon class="ar" points="1494,936 1494,980 1450,958"/>
<!-- test proposals round to outline plan -->
<use href="#b" class="blk dk" x="1192" y="958"/>
<use href="#b" class="blk" x="1160" y="958"/>
<use href="#b" class="blk" x="1127" y="958"/>
<use href="#b" class="blk" x="1094" y="958"/>
<use href="#b" class="blk" x="1061" y="958"/>
<use href="#b" class="blk" x="1028" y="958"/>
<use href="#b" class="blk" x="995" y="958"/>
<use href="#b" class="blk" x="961" y="958"/>
<use href="#b" class="blk" x="928" y="958"/>
<use href="#b" class="blk" x="895" y="958"/>
<use href="#b" class="blk" x="862" y="958"/>
<use href="#b" class="blk" x="829" y="958"/>
<use href="#b" class="blk" x="796" y="958"/>
<use href="#b" class="blk" x="763" y="958"/>
<use href="#b" class="blk" x="730" y="958"/>
<use href="#b" class="blk" x="697" y="958"/>
<use href="#b" class="blk" x="664" y="958"/>
<use href="#b" class="blk" x="630" y="958"/>
<use href="#b" class="blk dk" x="597" y="958"/>
<use href="#b" class="blk dk" x="564" y="958"/>
<use href="#b" class="blk" x="531" y="958"/>
<use href="#b" class="blk" x="498" y="958"/>
<use href="#b" class="blk" x="465" y="958"/>
<use href="#b" class="blk" x="432" y="958"/>
<use href="#b" class="blk" x="399" y="958"/>
<use href="#b" class="blk" x="366" y="958"/>
<use href="#b" class="blk" x="333" y="958"/>
<use href="#b" class="blk" x="300" y="958"/>
<use href="#b" class="blk" x="267" y="958"/>
<use href="#b" class="blk" x="233" y="958"/>
<use href="#b" class="blk" transform="translate(200,958) rotate(-2)"/>
<use href="#b" class="blk" transform="translate(170,968) rotate(-36)"/>
<use href="#b" class="blk" transform="translate(150,994) rotate(-70)"/>
<use href="#b" class="blk" transform="translate(147,1027) rotate(90)"/>
<use href="#b" class="blk" transform="translate(147,1055) rotate(90)"/>
<polygon class="ar" points="125,1069 169,1069 147,1113"/>
<!-- outline plan round to submission -->
<use href="#b" class="blk dk" transform="translate(150,1322) rotate(90)"/>
<use href="#b" class="blk dk" transform="translate(150,1352) rotate(90)"/>
<use href="#b" class="blk" transform="translate(151,1381) rotate(82)"/>
<use href="#b" class="blk" transform="translate(162,1412) rotate(57)"/>
<use href="#b" class="blk" transform="translate(186,1435) rotate(32)"/>
<use href="#b" class="blk" transform="translate(218,1446) rotate(7)"/>
<use href="#b" class="blk" x="251" y="1447"/>
<use href="#b" class="blk" x="284" y="1447"/>
<use href="#b" class="blk" x="317" y="1447"/>
<use href="#b" class="blk" x="350" y="1447"/>
<use href="#b" class="blk" x="383" y="1447"/>
<use href="#b" class="blk" x="416" y="1447"/>
<use href="#b" class="blk" x="449" y="1447"/>
<use href="#b" class="blk" x="482" y="1447"/>
<use href="#b" class="blk" x="515" y="1447"/>
<use href="#b" class="blk" x="548" y="1447"/>
<use href="#b" class="blk" x="581" y="1447"/>
<use href="#b" class="blk" x="614" y="1447"/>
<use href="#b" class="blk" x="647" y="1447"/>
<use href="#b" class="blk" x="680" y="1447"/>
<use href="#b" class="blk" x="713" y="1447"/>
<use href="#b" class="blk" x="746" y="1447"/>
<use href="#b" class="blk" x="779" y="1447"/>
<use href="#b" class="blk" x="812" y="1447"/>
<use href="#b" class="blk" x="845" y="1447"/>
<use href="#b" class="blk" x="878" y="1447"/>
<use href="#b" class="blk dk" x="911" y="1447"/>
<!-- submission to scheme awaiting approval -->
<use href="#b" class="blk dk" x="1122" y="1445"/>
<use href="#b" class="blk" x="1155" y="1445"/>
<use href="#b" class="blk" x="1188" y="1445"/>
<use href="#b" class="blk" x="1221" y="1445"/>
<use href="#b" class="blk" x="1254" y="1445"/>
<polygon class="ar" points="1280,1423 1280,1467 1322,1445"/>
<!-- scheme awaiting approval to approval -->
<use href="#b" class="blk dk" x="1792" y="1445"/>
<use href="#b" class="blk" x="1825" y="1445"/>
<use href="#b" class="blk" x="1859" y="1445"/>
<use href="#b" class="blk" x="1892" y="1445"/>
<use href="#b" class="blk" x="1925" y="1445"/>
<use href="#b" class="blk" x="1958" y="1445"/>
<use href="#b" class="blk" x="1992" y="1445"/>
<use href="#b" class="blk" x="2025" y="1445"/>
<use href="#b" class="blk" x="2058" y="1445"/>
<use href="#b" class="blk dk" x="2091" y="1445"/>
<use href="#b" class="blk" x="2125" y="1445"/>
<use href="#b" class="blk" x="2158" y="1445"/>
<use href="#b" class="blk" x="2191" y="1445"/>
<use href="#b" class="blk" x="2224" y="1445"/>
<use href="#b" class="blk" x="2258" y="1445"/>
<use href="#b" class="blk" x="2291" y="1445"/>
<use href="#b" class="blk" x="2324" y="1445"/>
<polygon class="ar" points="2345,1423 2345,1467 2388,1445"/>
<!-- periodic amendment loop -->
<use href="#s" class="blk" transform="translate(1553,1364) rotate(90)"/>
<use href="#s" class="blk" transform="translate(1553,1331) rotate(90)"/>
<use href="#s" class="blk" transform="translate(1553,1298) rotate(90)"/>
<use href="#s" class="blk" transform="translate(1562,1262) rotate(-55)"/>
<use href="#s" class="blk" transform="translate(1588,1243) rotate(-18)"/>
<use href="#s" class="blk" x="1623" y="1241"/>
<use href="#s" class="blk" x="1656" y="1241"/>
<use href="#s" class="blk" x="1689" y="1241"/>
<use href="#s" class="blk" x="1722" y="1241"/>
<use href="#s" class="blk" x="1755" y="1241"/>
<use href="#s" class="blk" x="1788" y="1241"/>
<use href="#s" class="blk" x="1821" y="1241"/>
<use href="#s" class="blk" x="1854" y="1241"/>
<use href="#s" class="blk dk" x="1887" y="1241"/>
<use href="#s" class="blk dk" x="1920" y="1241"/>
<use href="#s" class="blk" x="1953" y="1241"/>
<polygon class="ar" points="1968,1228 1968,1254 1996,1241"/>
<use href="#s" class="blk" x="2182" y="1241"/>
<use href="#s" class="blk" x="2215" y="1241"/>
<use href="#s" class="blk" transform="translate(2259,1243) rotate(20)"/>
<use href="#s" class="blk" transform="translate(2279,1262) rotate(58)"/>
<use href="#s" class="blk" transform="translate(2285,1292) rotate(90)"/>
<use href="#s" class="blk" transform="translate(2285,1322) rotate(90)"/>
<use href="#s" class="blk" transform="translate(2285,1352) rotate(90)"/>
<polygon class="ar" points="2272,1372 2298,1372 2285,1410"/>
<!-- ten year review feeding back -->
<use href="#b" class="blk dk" transform="translate(2082,1551) rotate(90)"/>
<use href="#b" class="blk dk" transform="translate(2082,1519) rotate(90)"/>
<polygon class="ar" points="2060,1503 2104,1503 2082,1467"/>
</g>
</svg>
